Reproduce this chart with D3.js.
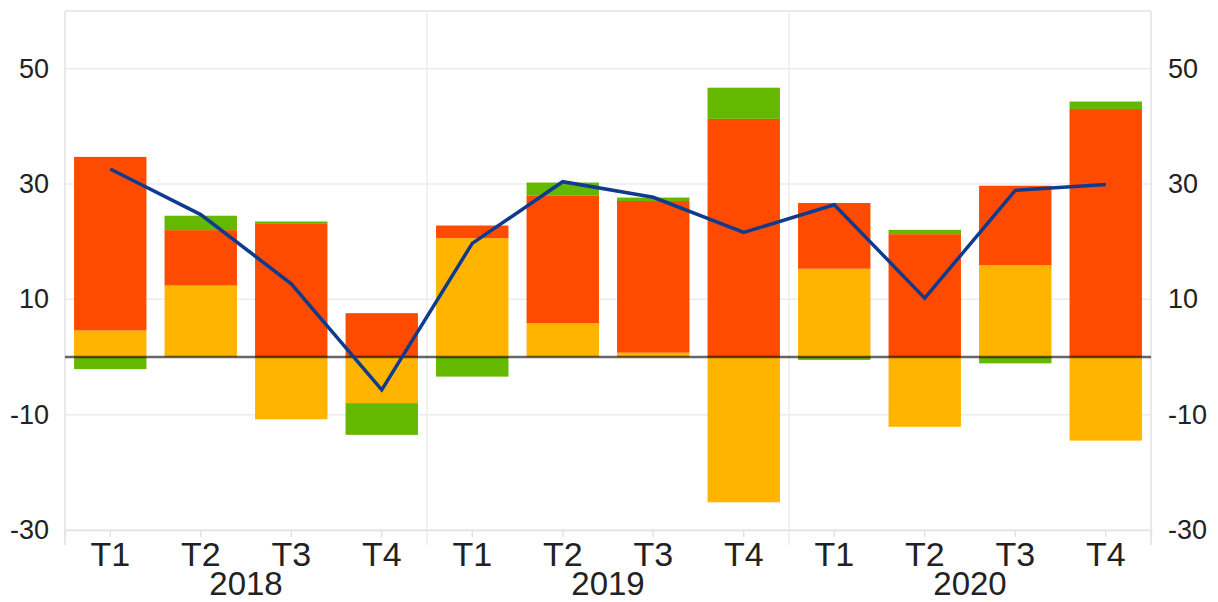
<!DOCTYPE html>
<html>
<head>
<meta charset="utf-8">
<script src="https://cdn.jsdelivr.net/npm/d3@7"></script>
<style>
  body { margin: 0; background: #fff; }
  text { font-family: "Liberation Sans", Arial, sans-serif; fill: #222; }
</style>
</head>
<body>
<svg id="chart"></svg>
<script>
const quarters = ["T1","T2","T3","T4","T1","T2","T3","T4","T1","T2","T3","T4"];
const years = ["2018","2019","2020"];
// three stacked contributions (yellow, red, green) and the total line
const contribYellow = [4.6, 12.4, -10.8, -8.0, 20.6, 5.85, 0.75, -25.2, 15.3, -12.1, 15.9, -14.5];
const contribRed    = [30.1, 9.6, 23.2, 7.6, 2.2, 22.1, 26.3, 41.3, 11.4, 21.3, 13.8, 43.0];
const contribGreen  = [-2.1, 2.5, 0.3, -5.5, -3.4, 2.3, 0.6, 5.4, -0.5, 0.75, -1.1, 1.3];
const total         = [32.6, 24.7, 12.7, -5.7, 19.7, 30.4, 27.7, 21.6, 26.4, 10.2, 28.9, 29.9];
const yTicks = [-30, -10, 10, 30, 50];

const W = 1218, H = 602;
const plotLeft = 65, plotRight = 1151, plotTop = 11, plotBottom = 530;

const keys = ["yellow", "red", "green"];
const colors = {yellow: "#ffb400", red: "#ff4b00", green: "#65b800"};

const rows = quarters.map((q, i) => ({
  id: i, q: q, year: years[Math.floor(i / 4)],
  yellow: contribYellow[i], red: contribRed[i], green: contribGreen[i], total: total[i]
}));

const x = d3.scaleBand()
  .domain(rows.map(d => d.id))
  .range([plotLeft, plotRight])
  .paddingInner(0.2)
  .paddingOuter(0.1);

const y = d3.scaleLinear().domain([-30, 60]).range([plotBottom, plotTop]);

const svg = d3.select("#chart").attr("width", W).attr("height", H);

// grid
svg.append("g").selectAll("line")
  .data(yTicks)
  .join("line")
  .attr("x1", plotLeft).attr("x2", plotRight)
  .attr("y1", d => y(d)).attr("y2", d => y(d))
  .attr("stroke", "#ececec").attr("stroke-width", 1.5);

// frame
const frame = svg.append("g").attr("stroke", "#e2e2e2").attr("stroke-width", 1.5);
frame.append("line").attr("x1", plotLeft).attr("x2", plotRight).attr("y1", plotTop).attr("y2", plotTop);
frame.append("line").attr("x1", plotLeft).attr("x2", plotLeft).attr("y1", plotTop).attr("y2", 545);
frame.append("line").attr("x1", plotRight).attr("x2", plotRight).attr("y1", plotTop).attr("y2", 545);

// year separators
const step = x.step();
svg.append("g").selectAll("line")
  .data([4, 8])
  .join("line")
  .attr("x1", d => x(d) - step * 0.1).attr("x2", d => x(d) - step * 0.1)
  .attr("y1", plotTop).attr("y2", 545)
  .attr("stroke", "#ececec").attr("stroke-width", 1.5);

// stacked bars
const series = d3.stack().keys(keys).offset(d3.stackOffsetDiverging)(rows);
svg.append("g").selectAll("g")
  .data(series)
  .join("g")
  .attr("fill", s => colors[s.key])
  .selectAll("rect")
  .data(s => s)
  .join("rect")
  .attr("x", d => x(d.data.id))
  .attr("width", x.bandwidth())
  .attr("y", d => y(Math.max(d[0], d[1])))
  .attr("height", d => Math.abs(y(d[0]) - y(d[1])));

// bottom axis line + ticks
const xAxis = svg.append("g").attr("transform", `translate(0,${plotBottom})`)
  .call(d3.axisBottom(x).tickSize(7).tickFormat(i => quarters[i]));
xAxis.attr("font-family", null);
xAxis.select(".domain").attr("stroke", "#e2e2e2").attr("stroke-width", 1.5);
xAxis.selectAll(".tick line").attr("stroke", "#e2e2e2").attr("stroke-width", 1.5);
xAxis.selectAll(".tick text")
  .attr("y", 36).attr("dy", 0)
  .style("font-size", "34px")
  .attr("fill", "#222");

// year labels
svg.append("g").selectAll("text")
  .data(years)
  .join("text")
  .attr("x", (d, i) => (x(i * 4) + x(i * 4 + 3) + x.bandwidth()) / 2)
  .attr("y", 595)
  .attr("text-anchor", "middle")
  .style("font-size", "33px")
  .text(d => d);

// y axes (plain hyphen for negatives, as in the reference)
const fmt = d => String(d);
const yLeft = svg.append("g").attr("transform", `translate(${plotLeft},0)`)
  .call(d3.axisLeft(y).tickValues(yTicks).tickFormat(fmt).tickSize(0).tickPadding(16));
const yRight = svg.append("g").attr("transform", `translate(${plotRight},0)`)
  .call(d3.axisRight(y).tickValues(yTicks).tickFormat(fmt).tickSize(0).tickPadding(17));
[yLeft, yRight].forEach(a => {
  a.attr("font-family", null);
  a.select(".domain").remove();
  a.selectAll("text").style("font-size", "27px").attr("fill", "#222");
});

// zero line
svg.append("line")
  .attr("x1", plotLeft).attr("x2", plotRight)
  .attr("y1", y(0)).attr("y2", y(0))
  .attr("stroke", "#000").attr("stroke-opacity", 0.6).attr("stroke-width", 2.5);

// total line
const line = d3.line()
  .x(d => x(d.id) + x.bandwidth() / 2)
  .y(d => y(d.total));
svg.append("path")
  .datum(rows)
  .attr("d", line)
  .attr("fill", "none")
  .attr("stroke", "#0f3b8f")
  .attr("stroke-width", 3.5)
  .attr("stroke-linejoin", "miter");
</script>
</body>
</html>
